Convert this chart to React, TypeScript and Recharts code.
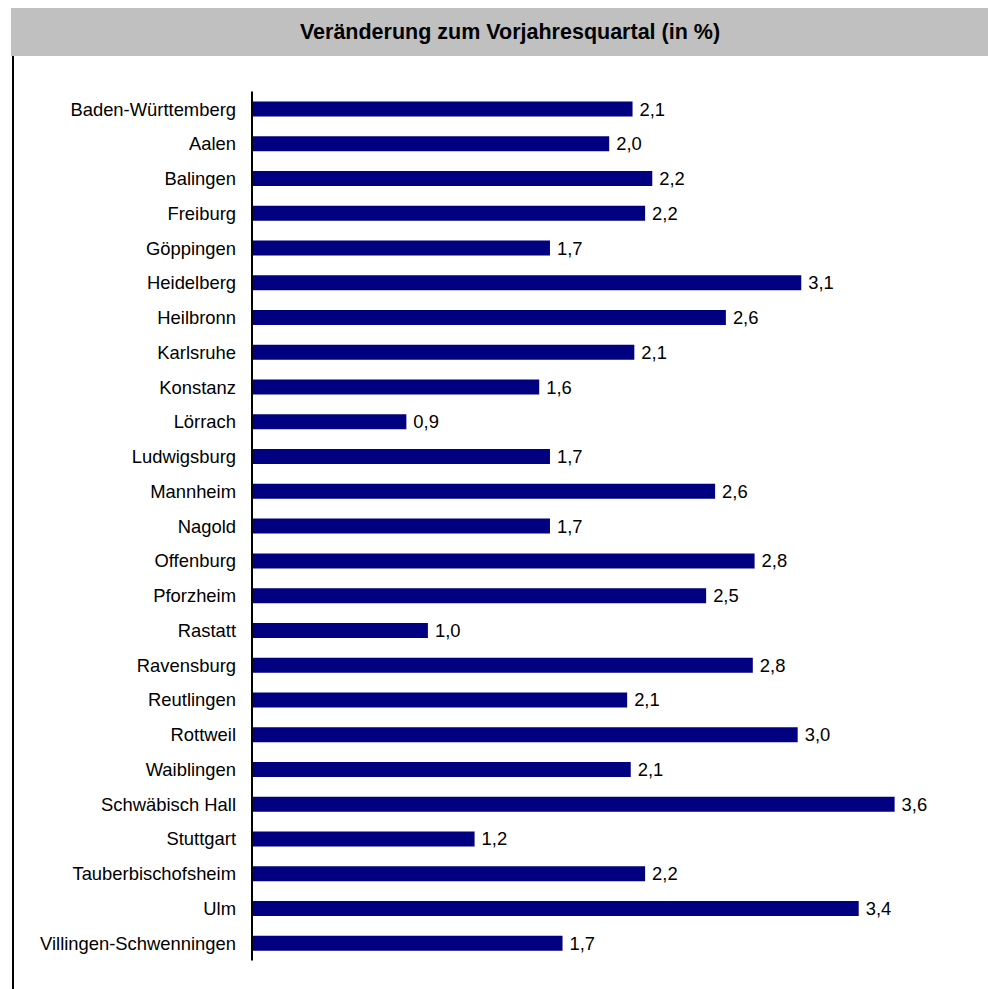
import { Bar, BarChart, LabelList, XAxis, YAxis } from "recharts";

const regions = [
  "Baden-Württemberg",
  "Aalen",
  "Balingen",
  "Freiburg",
  "Göppingen",
  "Heidelberg",
  "Heilbronn",
  "Karlsruhe",
  "Konstanz",
  "Lörrach",
  "Ludwigsburg",
  "Mannheim",
  "Nagold",
  "Offenburg",
  "Pforzheim",
  "Rastatt",
  "Ravensburg",
  "Reutlingen",
  "Rottweil",
  "Waiblingen",
  "Schwäbisch Hall",
  "Stuttgart",
  "Tauberbischofsheim",
  "Ulm",
  "Villingen-Schwenningen",
];

// Veränderung zum Vorjahresquartal in %
const change = [
  2.12, 1.99, 2.23, 2.19, 1.66, 3.06, 2.64, 2.13, 1.6, 0.86, 1.66, 2.58, 1.66,
  2.8, 2.53, 0.98, 2.79, 2.09, 3.04, 2.11, 3.58, 1.24, 2.19, 3.38, 1.73,
];

const FONT = '"Liberation Sans", Arial, Helvetica, sans-serif';
const NAVY = "#000080";

const data = regions.map((name, i) => ({ name, value: change[i] }));

const fmt = (v: number) => v.toFixed(1).replace(".", ",");

export default function App() {
  return (
    <div
      style={{
        position: "absolute",
        left: 0,
        top: 0,
        width: 988,
        height: 989,
        background: "#fff",
        fontFamily: FONT,
        overflow: "hidden",
      }}
    >
      <div
        style={{
          position: "absolute",
          left: 11,
          top: 8,
          width: 977,
          height: 48,
          background: "#c0c0c0",
        }}
      />
      <div
        style={{
          position: "absolute",
          left: 0,
          top: 8,
          width: 1020,
          height: 48,
          lineHeight: "48px",
          textAlign: "center",
          fontWeight: "bold",
          fontSize: 21.5,
          color: "#000",
        }}
      >
        Veränderung zum Vorjahresquartal (in %)
      </div>
      <div
        style={{
          position: "absolute",
          left: 12,
          top: 56,
          width: 2,
          height: 933,
          background: "#000",
        }}
      />
      <div style={{ position: "absolute", left: 0, top: 0 }}>
        <BarChart
          width={988}
          height={989}
          data={data}
          layout="vertical"
          margin={{ top: 91.6, right: 18, bottom: 28.6, left: 0 }}
          barCategoryGap={0}
        >
          <XAxis type="number" domain={[0, 4]} hide />
          <YAxis
            type="category"
            dataKey="name"
            width={252}
            interval={0}
            tickLine={false}
            tickSize={0}
            tickMargin={16}
            axisLine={{ stroke: "#000", strokeWidth: 2 }}
            tick={{ fill: "#000", fontSize: 18.4, fontFamily: FONT }}
          />
          <Bar dataKey="value" fill={NAVY} barSize={15} isAnimationActive={false}>
            <LabelList
              dataKey="value"
              position="right"
              offset={7}
              formatter={(v: any) => fmt(Number(v))}
              style={{ fill: "#000", fontSize: 18.4, fontFamily: FONT }}
            />
          </Bar>
        </BarChart>
      </div>
    </div>
  );
}
